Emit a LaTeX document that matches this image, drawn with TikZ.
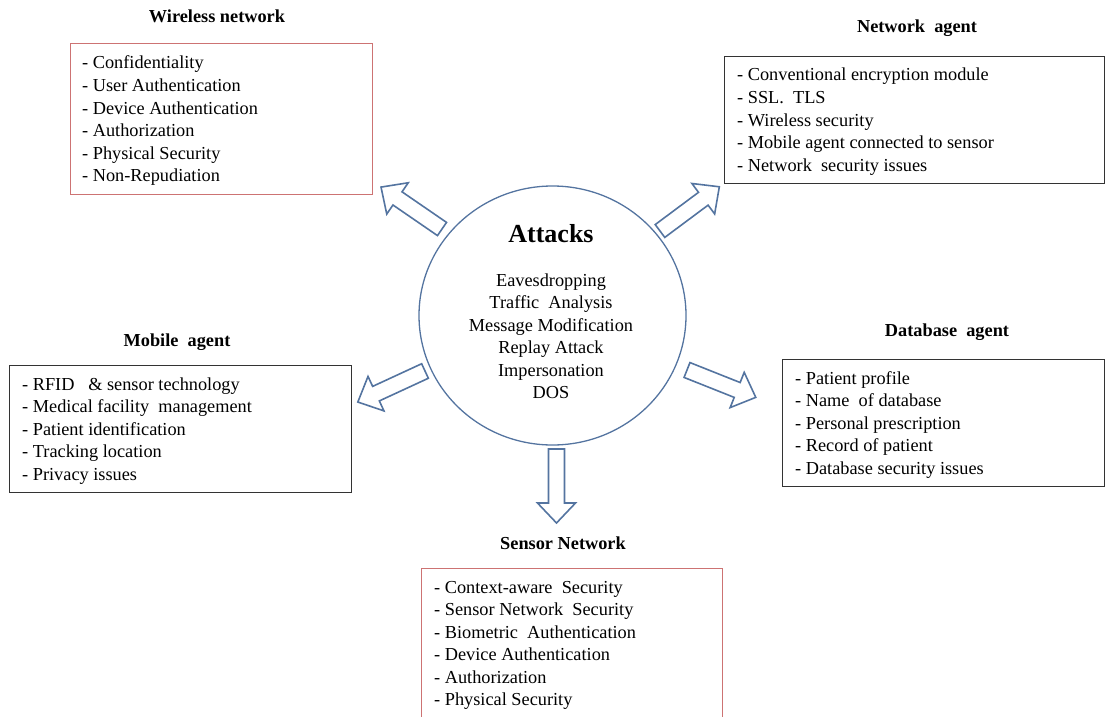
\documentclass[tikz,border=0pt]{standalone}
\usepackage{fontspec}
\setmainfont{Liberation Serif}
\usetikzlibrary{shapes.geometric}

\definecolor{hubblue}{RGB}{84,116,160}
\definecolor{boxred}{RGB}{205,115,115}

\begin{document}
\begin{tikzpicture}[x=1pt,y=-1pt,
    itemtext/.style={anchor=base west,inner sep=0pt,font=\fontsize{18.3}{22.5}\selectfont},
    title/.style={inner sep=0pt,font=\fontsize{18.3}{22}\selectfont\bfseries},
    redbox/.style={draw=boxred,line width=1.3pt,anchor=north west,inner sep=0pt},
    blackbox/.style={draw=black!80,line width=1.3pt,anchor=north west,inner sep=0pt},
    hub/.style={ellipse,draw=hubblue,line width=1.3pt,inner sep=0pt,
                minimum width=267pt,minimum height=259pt},
    arrowline/.style={draw=hubblue,line width=1.6pt,fill=white,line join=miter},
    blockarrow/.pic={
      \draw[arrowline] (0,-8) -- (54,-8) -- (54,-19) -- (74,0) -- (54,19)
                       -- (54,8) -- (0,8) -- cycle;}
  ]
  \useasboundingbox (0,0) rectangle (1105,717);

  % central hub with the list of attacks
  \node[hub] (hub) at (552.5,315.5) {};
  \node[inner sep=0pt,font=\fontsize{26}{30}\selectfont\bfseries] (attacks) at (551,234) {Attacks};
  \foreach \t [count=\i] in {Eavesdropping,Traffic\ \ Analysis,Message Modification,
                             Replay Attack,Impersonation,DOS}
    \node[inner sep=0pt,anchor=base,font=\fontsize{18.3}{22.5}\selectfont] (att\i)
      at (551,286+22.5*\i-22.5) {\t};

  % block arrows pointing from the hub to each area
  \path (442,229) pic[rotate=145.5] {blockarrow};
  \path (660,231) pic[rotate=36.7] {blockarrow};
  \path (425,371) pic[rotate=204.8] {blockarrow};
  \path (687,370) pic[rotate=-21.7] {blockarrow};
  \path (556.5,449) pic[rotate=-90] {blockarrow};

  % Wireless network
  \node[title] (wtitle) at (217,16) {Wireless network};
  \node[redbox,minimum width=302pt,minimum height=151pt] (wbox) at (70,43) {};
  \foreach \t [count=\i] in {Confidentiality,User Authentication,Device Authentication,
                             Authorization,Physical Security,Non-Repudiation}
    \node[itemtext] (w\i) at (82,69+22.5*\i-22.5) {- \t};

  % Network agent
  \node[title] (ntitle) at (917,28) {Network \ agent};
  \node[blackbox,minimum width=380pt,minimum height=127pt] (nbox) at (724,56) {};
  \foreach \t [count=\i] in {Conventional encryption module,SSL.\ \ TLS,Wireless security,
                             Mobile agent connected to sensor,Network\ \ security issues}
    \node[itemtext] (n\i) at (737,81+22.5*\i-22.5) {- \t};

  % Mobile agent
  \node[title] (mtitle) at (177,342) {Mobile\ \ agent};
  \node[blackbox,minimum width=342pt,minimum height=127pt] (mbox) at (9,365) {};
  \foreach \t [count=\i] in {RFID\ \ \ \& sensor technology,Medical facility\ \ management,
                             Patient identification,Tracking location,Privacy issues}
    \node[itemtext] (m\i) at (22,390+22.5*\i-22.5) {- \t};

  % Database agent
  \node[title] (dtitle) at (947,332) {Database\ \ agent};
  \node[blackbox,minimum width=322pt,minimum height=127pt] (dbox) at (782,359) {};
  \foreach \t [count=\i] in {Patient profile,Name\ \ of database,Personal prescription,
                             Record of patient,Database security issues}
    \node[itemtext] (d\i) at (795,384+22.5*\i-22.5) {- \t};

  % Sensor network
  \node[title] (stitle) at (563,543) {Sensor Network};
  \node[redbox,minimum width=301pt,minimum height=149pt] (sbox) at (421,568) {};
  \foreach \t [count=\i] in {Context-aware\ \ Security,Sensor Network\ \ Security,
                             Biometric\ \ Authentication,Device Authentication,
                             Authorization,Physical Security}
    \node[itemtext] (s\i) at (434,593+22.5*\i-22.5) {- \t};
\end{tikzpicture}
\end{document}
